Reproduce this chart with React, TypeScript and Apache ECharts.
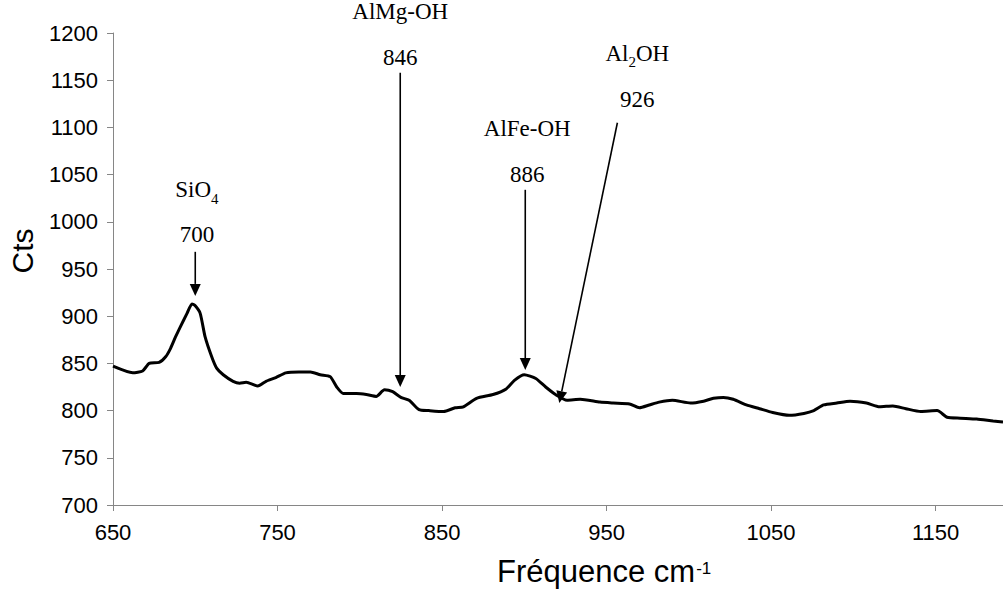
import React, { useEffect, useRef } from 'react';
import * as echarts from 'echarts';

// Spectrum (frequency cm-1, counts)
const freq = [650, 662, 668, 672, 678, 682, 685, 688, 691, 695, 698, 700, 703, 706, 710, 713, 717, 723, 727, 731, 738, 743, 749, 755, 763, 770, 776, 782, 786, 790, 798, 804, 810, 815, 820, 825, 830, 836, 842, 851, 858, 863, 871, 881, 889, 894, 900, 907, 913, 919, 926, 934, 946, 954, 964, 970, 976, 982, 990, 1001, 1009, 1015, 1021, 1027, 1035, 1043, 1051, 1061, 1070, 1076, 1082, 1090, 1098, 1108, 1116, 1124, 1132, 1141, 1151, 1157, 1165, 1175, 1185, 1191];
const counts = [847, 840, 842, 850, 851, 857, 866, 878, 889, 903, 913, 911, 903, 878, 857, 845, 838, 831, 829, 830, 826, 831, 835, 840, 841, 841, 838, 836, 825, 818, 818, 817, 815, 822, 820, 814, 811, 801, 800, 799, 803, 804, 813, 817, 823, 832, 838, 834, 825, 817, 811, 812, 809, 808, 807, 803, 806, 809, 811, 808, 810, 813, 814, 812, 806, 802, 798, 795, 797, 800, 806, 808, 810, 808, 804, 805, 802, 799, 800, 793, 792, 791, 789, 788];

const xTicks = [650, 750, 850, 950, 1050, 1150];

// Annotations: [main, subscript, rest]
const annNames = [['SiO', '4', ''], ['AlMg-OH', '', ''], ['AlFe-OH', '', ''], ['Al', '2', 'OH']];
const annValues = ['700', '846', '886', '926'];
const annLabelX = [701, 824.6, 901.8, 968.7];
const annNameY = [1031.2, 1219.9, 1096.4, 1175.9];
const annValueY = [986.2, 1174.3, 1050.3, 1129.3];
const arrowStart = [[700, 968.2], [824.6, 1158], [900.6, 1033.9], [956.6, 1104.9]];
const arrowTip = [[700, 921.5], [824.6, 825], [900.6, 843], [921.3, 808]];

const SANS = 'Liberation Sans, Arial, sans-serif';
const SERIF = 'Liberation Serif, Times New Roman, serif';
const AXIS_GRAY = '#868686';

export default function App() {
  const ref = useRef<HTMLDivElement>(null);
  useEffect(() => {
    if (!ref.current) return;
    const chart = echarts.init(ref.current, null, { renderer: 'svg' });
    chart.setOption({
      animation: false,
      grid: { left: 113, right: 0, top: 33, bottom: 84 },
      xAxis: {
        type: 'value', min: 650, max: 1191,
        axisLine: { lineStyle: { color: AXIS_GRAY, width: 1 } },
        axisTick: { show: true, inside: false, length: 6, customValues: xTicks, lineStyle: { color: AXIS_GRAY } },
        axisLabel: { customValues: xTicks, fontSize: 22, fontFamily: SANS, color: '#000', margin: 16, formatter: (v: number) => String(v) },
        splitLine: { show: false },
      },
      yAxis: {
        type: 'value', min: 700, max: 1200, interval: 50,
        axisLine: { show: true, lineStyle: { color: AXIS_GRAY, width: 1 } },
        axisTick: { show: true, inside: false, length: 6, lineStyle: { color: AXIS_GRAY } },
        axisLabel: { fontSize: 22, fontFamily: SANS, color: '#000', margin: 15, formatter: (v: number) => String(v) },
        splitLine: { show: false },
      },
      series: [{
        type: 'line',
        data: freq.map((f, i) => [f, counts[i]]),
        showSymbol: false,
        smooth: 0.2,
        lineStyle: { color: '#000', width: 3 },
        silent: true,
      }],
    });

    const px = (p: number[]) => chart.convertToPixel({ gridIndex: 0 }, p) as number[];
    const graphics: any[] = [];
    const nameRich = {
      n: { fontSize: 23, lineHeight: 28, fontFamily: SERIF, fill: '#000', verticalAlign: 'top' },
      s: { fontSize: 15, lineHeight: 15, fontFamily: SERIF, fill: '#000', verticalAlign: 'top', padding: [13, 0, 0, 0] },
    };
    annNames.forEach((parts, i) => {
      const [a, b, c] = parts;
      let txt = `{n|${a}}`;
      if (b) txt += `{s|${b}}`;
      if (c) txt += `{n|${c}}`;
      const np = px([annLabelX[i], annNameY[i]]);
      graphics.push({
        type: 'text', x: np[0], y: np[1],
        style: { text: txt, rich: nameRich, align: 'center', verticalAlign: 'middle', fill: '#000' },
      });
      const vp = px([annLabelX[i], annValueY[i]]);
      graphics.push({
        type: 'text', x: vp[0], y: vp[1],
        style: { text: annValues[i], fontSize: 23, fontFamily: SERIF, fill: '#000', align: 'center', verticalAlign: 'middle' },
      });
      const s = px(arrowStart[i]);
      const t = px(arrowTip[i]);
      const dx = t[0] - s[0], dy = t[1] - s[1];
      const len = Math.sqrt(dx * dx + dy * dy);
      const ux = dx / len, uy = dy / len;
      const headL = 12, headW = 5.5;
      const bx = t[0] - ux * headL, by = t[1] - uy * headL;
      graphics.push({
        type: 'line',
        shape: { x1: s[0], y1: s[1], x2: bx, y2: by },
        style: { stroke: '#000', lineWidth: 1.6 },
      });
      graphics.push({
        type: 'polygon',
        shape: { points: [[t[0], t[1]], [bx - uy * headW, by + ux * headW], [bx + uy * headW, by - ux * headW]] },
        style: { fill: '#000' },
      });
    });

    graphics.push({
      type: 'text', x: 22, y: 251, rotation: Math.PI / 2,
      style: { text: 'Cts', fontSize: 30, fontFamily: SANS, fill: '#000', align: 'center', verticalAlign: 'middle' },
    });
    graphics.push({
      type: 'text', x: 497, y: 571,
      style: {
        text: '{m|Fréquence cm}{s|-1}',
        align: 'left', verticalAlign: 'middle',
        rich: {
          m: { fontSize: 31, lineHeight: 31, fontFamily: SANS, fill: '#000', verticalAlign: 'top' },
          s: { fontSize: 17, lineHeight: 17, fontFamily: SANS, fill: '#000', verticalAlign: 'top', padding: [4, 0, 0, 1] },
        },
      },
    });
    chart.setOption({ graphic: graphics });

    return () => chart.dispose();
  }, []);
  return <div ref={ref} style={{ position: 'absolute', left: 0, top: 0, width: 1003, height: 589 }} />;
}
